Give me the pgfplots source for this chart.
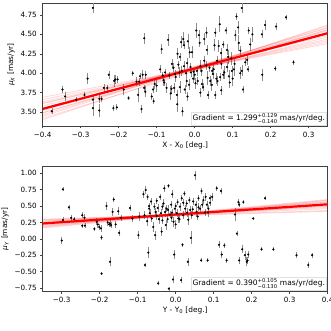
\documentclass[border=0pt]{standalone}
\usepackage{fontspec}
\setmainfont{DejaVu Sans}
\usepackage{amsmath}
\usepackage{pgfplots}
\usepackage{pgfplotstable}
\pgfplotsset{compat=1.18}

% proper motion in X vs X offset
\pgfplotstableread{
x y e
-0.376 3.51 0.04
-0.348 3.79 0.05
-0.341 3.70 0.06
-0.312 3.66 0.03
-0.290 3.72 0.04
-0.282 3.93 0.07
-0.268 4.84 0.06
-0.268 3.66 0.04
-0.268 3.55 0.10
-0.251 3.67 0.05
-0.251 3.52 0.08
-0.245 3.67 0.04
-0.239 3.81 0.05
-0.230 3.81 0.04
-0.226 3.98 0.05
-0.214 3.55 0.04
-0.212 3.90 0.08
-0.209 3.92 0.06
-0.205 3.56 0.04
-0.203 3.92 0.05
-0.187 3.79 0.07
-0.174 3.68 0.03
-0.163 4.00 0.03
-0.153 3.89 0.06
-0.149 3.72 0.09
-0.146 3.89 0.05
-0.144 3.96 0.04
-0.140 3.54 0.05
-0.133 4.45 0.07
-0.137 3.98 0.06
-0.133 3.81 0.04
-0.130 3.76 0.07
-0.129 3.98 0.05
-0.113 3.70 0.04
-0.110 3.79 0.05
-0.108 3.64 0.04
-0.105 3.86 0.06
-0.100 3.84 0.08
-0.091 4.05 0.05
-0.087 4.31 0.06
-0.084 3.97 0.05
-0.082 3.91 0.07
-0.080 3.88 0.05
-0.078 4.01 0.04
-0.074 3.81 0.06
-0.070 4.43 0.08
-0.067 3.97 0.05
-0.063 3.74 0.09
-0.061 3.80 0.05
-0.060 4.12 0.06
-0.056 4.07 0.06
-0.054 3.81 0.07
-0.052 3.99 0.05
-0.050 3.95 0.06
-0.047 3.72 0.06
-0.046 3.60 0.10
-0.045 4.25 0.07
-0.043 4.11 0.05
-0.040 4.01 0.07
-0.039 3.82 0.08
-0.039 4.21 0.05
-0.036 4.40 0.08
-0.034 4.03 0.06
-0.032 3.51 0.06
-0.030 4.44 0.09
-0.028 4.36 0.05
-0.028 4.09 0.07
-0.026 3.79 0.06
-0.023 4.00 0.05
-0.021 3.90 0.08
-0.020 4.13 0.06
-0.019 3.70 0.06
-0.018 4.41 0.10
-0.015 3.85 0.07
-0.013 4.27 0.07
-0.011 4.08 0.05
-0.010 4.01 0.06
-0.007 4.27 0.08
-0.004 3.93 0.06
-0.003 4.02 0.05
0.000 3.98 0.07
0.002 3.87 0.07
0.004 4.55 0.10
0.006 4.03 0.06
0.008 3.90 0.05
0.011 4.49 0.07
0.013 4.39 0.05
0.015 4.09 0.08
0.015 3.75 0.06
0.018 4.03 0.06
0.019 3.86 0.07
0.022 3.82 0.05
0.025 4.16 0.06
0.025 4.44 0.08
0.030 4.10 0.06
0.031 4.52 0.07
0.032 4.30 0.06
0.034 3.94 0.09
0.035 3.72 0.05
0.039 4.07 0.06
0.041 3.90 0.07
0.045 3.85 0.08
0.046 4.03 0.05
0.048 3.99 0.06
0.050 4.05 0.07
0.052 4.36 0.08
0.054 4.52 0.06
0.054 3.72 0.05
0.057 3.93 0.07
0.059 4.16 0.06
0.060 3.90 0.06
0.063 4.35 0.08
0.066 4.63 0.10
0.067 3.95 0.05
0.069 4.26 0.07
0.070 3.78 0.06
0.070 4.12 0.07
0.075 4.37 0.05
0.075 3.98 0.06
0.078 4.01 0.08
0.082 4.55 0.05
0.085 4.08 0.06
0.085 4.30 0.07
0.088 4.21 0.09
0.090 3.96 0.08
0.092 3.88 0.07
0.096 4.19 0.08
0.098 4.03 0.06
0.100 3.93 0.09
0.103 4.05 0.09
0.105 4.12 0.07
0.107 4.49 0.07
0.110 4.73 0.05
0.114 4.59 0.08
0.116 4.39 0.10
0.120 4.29 0.06
0.120 4.00 0.08
0.124 4.84 0.06
0.124 4.03 0.07
0.127 3.79 0.04
0.133 4.14 0.05
0.138 4.17 0.06
0.140 4.05 0.04
0.142 4.55 0.04
0.146 4.37 0.08
0.152 4.50 0.10
0.177 4.50 0.05
0.178 3.98 0.08
0.185 4.62 0.06
0.214 4.60 0.04
0.212 4.06 0.03
0.240 4.72 0.03
0.260 4.14 0.03
}\topdata

% proper motion in Y vs Y offset
\pgfplotstableread{
x y e
-0.297 0.755 0.03
-0.297 0.286 0.04
-0.300 -0.026 0.05
-0.281 0.48 0.04
-0.275 0.32 0.05
-0.267 0.30 0.04
-0.246 0.36 0.05
-0.246 0.20 0.03
-0.240 0.32 0.06
-0.239 0.20 0.04
-0.214 0.15 0.03
-0.208 0.26 0.05
-0.205 0.22 0.06
-0.201 0.18 0.04
-0.197 0.16 0.05
-0.195 0.02 0.04
-0.195 -0.53 0.02
-0.182 0.50 0.06
-0.179 0.25 0.05
-0.175 0.22 0.04
-0.173 0.235 0.06
-0.170 0.21 0.05
-0.173 -0.35 0.07
-0.166 0.41 0.06
-0.163 0.60 0.04
-0.158 0.22 0.05
-0.151 0.42 0.06
-0.149 0.09 0.04
-0.144 0.32 0.05
-0.120 0.47 0.04
-0.114 0.31 0.05
-0.098 0.056 0.06
-0.096 0.34 0.07
-0.085 0.68 0.05
-0.082 0.36 0.06
-0.081 -0.40 0.03
-0.079 0.745 0.06
-0.075 0.27 0.07
-0.074 0.64 0.05
-0.072 -0.21 0.08
-0.070 0.46 0.06
-0.070 0.50 0.05
-0.068 0.39 0.07
-0.065 0.57 0.05
-0.063 0.31 0.06
-0.059 0.18 0.08
-0.056 0.49 0.05
-0.054 0.056 0.07
-0.053 0.41 0.06
-0.050 0.58 0.05
-0.050 0.35 0.07
-0.047 0.47 0.06
-0.046 -0.68 0.03
-0.044 0.30 0.08
-0.041 0.64 0.05
-0.039 0.39 0.06
-0.037 0.11 0.07
-0.035 0.49 0.05
-0.035 0.28 0.06
-0.032 0.54 0.06
-0.030 0.77 0.05
-0.028 0.41 0.07
-0.026 0.21 0.08
-0.024 0.46 0.05
-0.021 0.30 0.06
-0.020 0.44 0.07
-0.019 0.81 0.03
-0.018 -0.76 0.03
-0.015 0.37 0.06
-0.012 0.52 0.05
-0.011 0.32 0.07
-0.010 0.40 0.06
-0.009 0.68 0.06
-0.007 -0.62 0.05
-0.006 0.26 0.08
-0.004 -0.24 0.07
-0.002 0.46 0.06
0.000 0.22 0.07
0.000 0.50 0.05
0.003 0.39 0.06
0.005 0.56 0.05
0.007 0.31 0.07
0.010 0.30 0.06
0.011 0.49 0.06
0.014 -0.63 0.05
0.016 0.62 0.05
0.018 -0.09 0.03
0.020 0.36 0.06
0.020 0.55 0.05
0.023 0.69 0.04
0.025 0.46 0.06
0.029 0.54 0.05
0.030 0.40 0.07
0.032 -0.35 0.06
0.033 0.29 0.08
0.036 0.59 0.05
0.038 0.44 0.06
0.040 0.015 0.10
0.042 0.36 0.06
0.045 0.45 0.05
0.046 0.57 0.05
0.051 0.97 0.07
0.053 0.52 0.06
0.055 0.41 0.07
0.058 0.34 0.06
0.060 0.62 0.05
0.060 0.48 0.06
0.064 0.46 0.06
0.067 -0.33 0.03
0.068 0.73 0.05
0.070 0.52 0.05
0.073 0.59 0.06
0.077 0.40 0.05
0.079 0.64 0.06
0.082 0.52 0.05
0.084 -0.33 0.03
0.085 0.40 0.06
0.086 0.46 0.06
0.090 0.62 0.05
0.090 0.55 0.05
0.096 0.64 0.06
0.108 0.77 0.04
0.114 -0.09 0.05
0.119 0.73 0.04
0.121 -0.24 0.05
0.128 -0.10 0.04
0.134 -0.33 0.04
0.156 0.37 0.10
0.161 0.08 0.04
0.165 0.56 0.05
0.167 0.52 0.04
0.167 -0.33 0.05
0.175 -0.16 0.06
0.178 0.56 0.03
0.182 -0.25 0.07
0.187 -0.35 0.07
0.189 -0.33 0.05
0.191 -0.24 0.05
0.204 0.31 0.03
0.226 -0.16 0.03
0.235 0.62 0.03
0.257 -0.16 0.03
0.318 -0.25 0.05
0.349 -0.40 0.05
0.359 -0.25 0.04
}\botdata

\pgfplotsset{
  panel/.style={
    scale only axis, width=285pt,
    axis line style={black!75},
    tick align=outside, tick pos=left,
    major tick length=2.5pt,
    tick style={black!75, line width=0.5pt},
    ticklabel style={font=\fontsize{7.2}{8}\selectfont},
    label style={font=\fontsize{7.4}{8.5}\selectfont},
    xlabel style={yshift=2.5pt},
    ylabel style={yshift=-1pt},
  },
  pts/.style={only marks, mark=*, mark size=0.85pt, black,
    error bars/.cd, y dir=both, y explicit,
    error bar style={black!45, line width=0.6pt}, error mark=none},
  fan/.style={red, opacity=0.14, line width=0.9pt, forget plot},
}

\begin{document}
\begin{tikzpicture}

\begin{axis}[panel, at={(42.7pt,205pt)}, anchor=south west, height=122.7pt,
  xmin=-0.4, xmax=0.35, ymin=3.32, ymax=4.90,
  xtick={-0.4,-0.3,-0.2,-0.1,0,0.1,0.2,0.3},
  xticklabels={−0.4,−0.3,−0.2,−0.1,0.0,0.1,0.2,0.3},
  ytick={3.5,3.75,4.0,4.25,4.5,4.75},
  yticklabels={3.50,3.75,4.00,4.25,4.50,4.75},
  xlabel={X - X\textsubscript{0} [deg.]},
  ylabel={\textit{μ}\textsubscript{\textit{X}} [mas/yr]}]
\addplot[pts] table[x=x, y=y, y error=e] {\topdata};
\addplot[fan] coordinates {(-0.4,3.614) (0.35,4.440)};
\addplot[fan] coordinates {(-0.4,3.608) (0.35,4.486)};
\addplot[fan] coordinates {(-0.4,3.550) (0.35,4.465)};
\addplot[fan] coordinates {(-0.4,3.551) (0.35,4.503)};
\addplot[fan] coordinates {(-0.4,3.548) (0.35,4.546)};
\addplot[fan] coordinates {(-0.4,3.490) (0.35,4.525)};
\addplot[fan] coordinates {(-0.4,3.491) (0.35,4.563)};
\addplot[fan] coordinates {(-0.4,3.465) (0.35,4.590)};
\addplot[fan] coordinates {(-0.4,3.446) (0.35,4.608)};
\addplot[fan] coordinates {(-0.4,3.633) (0.35,4.421)};
\addplot[fan] coordinates {(-0.4,3.420) (0.35,4.560)};
\addplot[fan] coordinates {(-0.4,3.660) (0.35,4.400)};
\addplot[fan] coordinates {(-0.4,3.520) (0.35,4.580)};
\addplot[fan] coordinates {(-0.4,3.580) (0.35,4.520)};
\addplot[fan] coordinates {(-0.4,3.400) (0.35,4.620)};
\addplot[fan] coordinates {(-0.4,3.690) (0.35,4.380)};
\addplot[red, line width=2.2pt] coordinates {(-0.4,3.540) (0.35,4.515)};
\node[anchor=south east, fill=white, draw=black!12, inner sep=1.4pt,
  font=\fontsize{7.5}{8}\selectfont]
  at (rel axis cs:1,0) [xshift=-1.2pt, yshift=1.0pt]
  {Gradient = 1.299$^{\text{+0.129}}_{\text{−0.140}}$ mas/yr/deg.};
\end{axis}

\begin{axis}[panel, at={(42.7pt,40pt)}, anchor=south west, height=124.3pt,
  xmin=-0.35, xmax=0.4, ymin=-0.796, ymax=1.10,
  xtick={-0.3,-0.2,-0.1,0,0.1,0.2,0.3,0.4},
  xticklabels={−0.3,−0.2,−0.1,0.0,0.1,0.2,0.3,0.4},
  ytick={-0.75,-0.5,-0.25,0,0.25,0.5,0.75,1.0},
  yticklabels={−0.75,−0.50,−0.25,0.00,0.25,0.50,0.75,1.00},
  xlabel={Y - Y\textsubscript{0} [deg.]},
  ylabel={\textit{μ}\textsubscript{\textit{Y}} [mas/yr]}]
\addplot[pts] table[x=x, y=y, y error=e] {\botdata};
\addplot[fan] coordinates {(-0.35,0.283) (0.4,0.478)};
\addplot[fan] coordinates {(-0.35,0.268) (0.4,0.493)};
\addplot[fan] coordinates {(-0.35,0.252) (0.4,0.508)};
\addplot[fan] coordinates {(-0.35,0.234) (0.4,0.526)};
\addplot[fan] coordinates {(-0.35,0.219) (0.4,0.541)};
\addplot[fan] coordinates {(-0.35,0.204) (0.4,0.556)};
\addplot[fan] coordinates {(-0.35,0.193) (0.4,0.568)};
\addplot[fan] coordinates {(-0.35,0.175) (0.4,0.590)};
\addplot[fan] coordinates {(-0.35,0.300) (0.4,0.430)};
\addplot[fan] coordinates {(-0.35,0.245) (0.4,0.560)};
\addplot[fan] coordinates {(-0.35,0.215) (0.4,0.505)};
\addplot[fan] coordinates {(-0.35,0.270) (0.4,0.460)};
\addplot[fan] coordinates {(-0.35,0.185) (0.4,0.600)};
\addplot[fan] coordinates {(-0.35,0.165) (0.4,0.585)};
\addplot[fan] coordinates {(-0.35,0.290) (0.4,0.420)};
\addplot[red, line width=2.2pt] coordinates {(-0.35,0.234) (0.4,0.526)};
\node[anchor=south east, fill=white, draw=black!12, inner sep=1.4pt,
  font=\fontsize{7.5}{8}\selectfont]
  at (rel axis cs:1,0) [xshift=-1.2pt, yshift=1.0pt]
  {Gradient = 0.390$^{\text{+0.105}}_{\text{−0.130}}$ mas/yr/deg.};
\end{axis}

\pgfresetboundingbox
\path[use as bounding box] (0pt,0pt) rectangle (331pt,331pt);
\end{tikzpicture}
\end{document}
